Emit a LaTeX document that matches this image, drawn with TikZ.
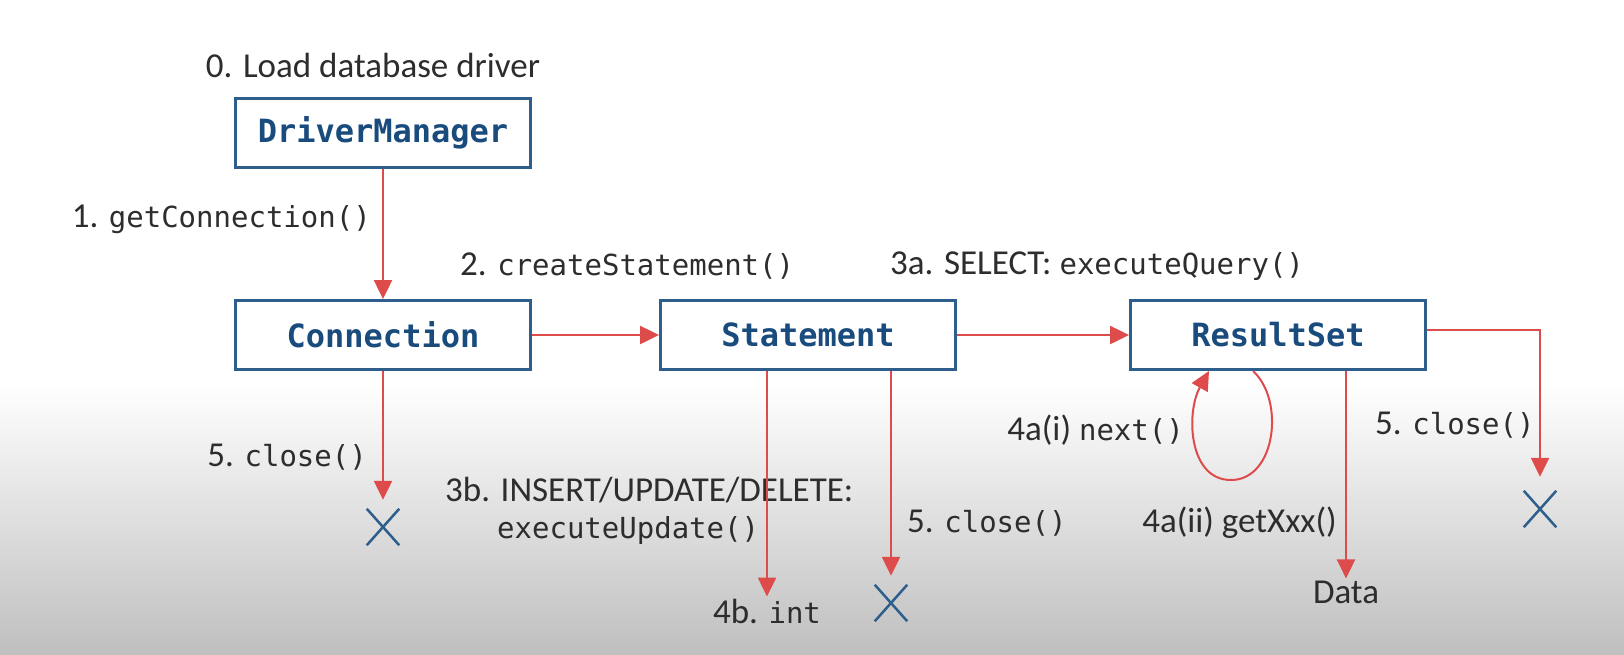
\documentclass[tikz,border=0pt]{standalone}
\usepackage{fontspec}
\setmainfont{Carlito}
\newfontfamily\monofnt{DejaVu Sans Mono}
\usetikzlibrary{positioning, arrows.meta, shapes.misc}

\definecolor{boxblue}{RGB}{46,95,140}
\definecolor{txtblue}{RGB}{25,75,125}
\definecolor{arrred}{RGB}{222,75,75}
\definecolor{lbltxt}{RGB}{45,45,45}

\newcommand{\mth}[1]{{\fontsize{29}{35}\selectfont\monofnt #1}}

\begin{document}
\begin{tikzpicture}[x=1pt, y=-1pt, >={Triangle[length=19pt,width=18pt]}, auto, node distance = 2cm,
    cls/.style = {draw=boxblue, line width=3pt, minimum width=295pt, minimum height=69pt,
                  font=\fontsize{32}{38}\selectfont\monofnt\bfseries, text=txtblue},
    lbl/.style = {font=\fontsize{35}{40}\selectfont, text=lbltxt, inner sep=2pt},
    gone/.style = {cross out, draw=boxblue, line width=2.5pt, minimum width=30pt,
                   minimum height=34pt, inner sep=0pt},
    call/.style = {->, color=arrred, line width=2.5pt}]
            % background
            \fill[white] (0,0) rectangle (1624,384);
            \shade[top color=white, bottom color=black!25] (0,383) rectangle (1624,654);
            \useasboundingbox (0,0) rectangle (1624,654);

            % classes
            \node[cls] (conn) at (383,335) {Connection};
            \node[cls] (dm) [above = 130pt of conn] {DriverManager};
            \node[cls] (stmt) [right = 127pt of conn] {Statement};
            \node[cls] (rs) [right = 172pt of stmt] {ResultSet};

            % labels
            \node[lbl] (load) at (373,65) {0. Load database driver};
            \node[lbl, anchor=east] (getconn) at (373,219) {1. \mth{getConnection()}};
            \node[lbl, anchor=west] (create) at (458,266) {2. \mth{createStatement()}};
            \node[lbl, anchor=west] (select) at (888,266) {3a. SELECT: \mth{executeQuery()}};
            \node[lbl, anchor=east] (closeconn) at (369,457) {5. \mth{close()}};
            \node[lbl, anchor=west] (insert) at (443,490) {3b. INSERT/UPDATE/DELETE:};
            \node[lbl, anchor=west] (update) at (495,530) {\mth{executeUpdate()}};
            \node[lbl, anchor=west] (closestmt) at (905,523) {5. \mth{close()}};
            \node[lbl, anchor=east] (next) at (1186,430) {4a(i) \mth{next()}};
            \node[lbl, anchor=east] (getxxx) at (1339,523) {4a(ii) getXxx()};
            \node[lbl, anchor=west] (closers) at (1373,425) {5. \mth{close()}};
            \node[lbl] (data) at (1346,592) {Data};
            \node[lbl] (int) at (767,611) {4b. \mth{int}};

            % ends
            \node[gone] (xconn) at (383,527) {};
            \node[gone] (xstmt) at (891,603) {};
            \node[gone] (xrs) at (1540,509) {};

            \path[call]
              (dm) edge (conn)
              (conn) edge (stmt)
              (stmt) edge (rs)
              (conn) edge [shorten >= 9pt] (xconn)
              (stmt.south -| int) edge (int)
              (stmt.south -| xstmt) edge [shorten >= 9pt] (xstmt)
              (rs.south -| data) edge (data)
            ;
            \draw[call] ([yshift=5pt]rs.east) -| ([yshift=14pt]xrs.north);
            \draw[call, line width=2pt] ([xshift=-25pt]rs.south)
              .. controls (1285,400) and (1276,480) .. (1231,480)
              .. controls (1188,480) and (1186,412) .. ([xshift=-69pt]rs.south);
          \end{tikzpicture}
\end{document}
